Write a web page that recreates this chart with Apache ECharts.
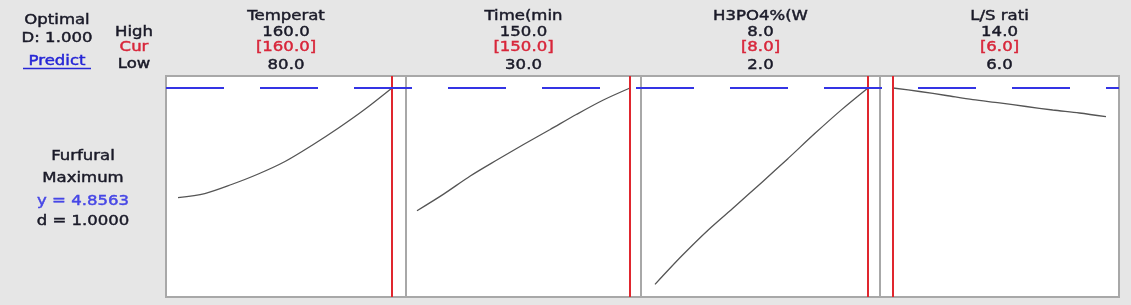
<!DOCTYPE html>
<html>
<head>
<meta charset="utf-8">
<script src="https://cdn.jsdelivr.net/npm/echarts@6/dist/echarts.min.js"></script>
<style>
html,body{margin:0;padding:0;background:#e6e6e6;}
#chart{width:1131px;height:305px;}
</style>
</head>
<body>
<div id="chart"></div>
<script>
// ---- data ----
const factors = ['Temperat', 'Time(min', 'H3PO4%(W', 'L/S rati'];
const highs = [160, 150, 8, 14];
const curs = [160, 150, 8, 6];
const lows = [80, 30, 2, 6];
const optimalD = 1.000;
const responseName = 'Furfural';
const goal = 'Maximum';
const optimalY = 4.8563;
const desirability = 1.0000;

const tempX = [80, 90, 100, 110, 120, 130, 140, 150, 160];
const tempY = [2.810, 2.888, 3.056, 3.252, 3.485, 3.784, 4.110, 4.464, 4.856];
const timeX = [30, 45, 60, 75, 90, 105, 120, 135, 150];
const timeY = [2.567, 2.877, 3.215, 3.513, 3.802, 4.082, 4.366, 4.632, 4.856];
const acidX = [2, 2.75, 3.5, 4.25, 5, 5.75, 6.5, 7.25, 8];
const acidY = [1.194, 1.722, 2.209, 2.646, 3.090, 3.543, 4.006, 4.448, 4.856];
const ratioX = [6, 7, 8, 9, 10, 11, 12, 13, 14];
const ratioY = [4.856, 4.791, 4.716, 4.640, 4.578, 4.511, 4.446, 4.390, 4.321];
const curvesX = [tempX, timeX, acidX, ratioX];
const curvesY = [tempY, timeY, acidY, ratioY];

// ---- layout ----
const W = 1131, H = 305;
const edges = [166, 406, 641, 880, 1119];
const padL = [12, 11, 14, 13];
const padR = [14, 11, 12, 13];
const topY = 76, bottomY = 297;
const yMin = 0.9575, yMax = 5.08;
const FONT = 'DejaVu Sans';
const TXT = '#1a1a28';
const RED = '#d8263a';
const BLUE = '#3434e4';
const SX = 1.18;

const grids = [], xAxes = [], yAxes = [], series = [];
for (let i = 0; i < 4; i++) {
  const l = edges[i], r = edges[i + 1];
  grids.push({left: l, top: topY, width: r - l, height: bottomY - topY,
    show: true, backgroundColor: '#ffffff', borderColor: '#a8a8a8', borderWidth: 2, z: 0});
  const dataW = (r - l) - padL[i] - padR[i];
  const unit = (highs[i] - lows[i]) / dataW;
  xAxes.push({type: 'value', gridIndex: i, min: lows[i] - padL[i] * unit, max: highs[i] + padR[i] * unit,
    show: false, splitLine: {show: false}});
  yAxes.push({type: 'value', gridIndex: i, min: yMin, max: yMax, show: false, splitLine: {show: false}});
  series.push({
    type: 'line', xAxisIndex: i, yAxisIndex: i, z: 3,
    data: curvesX[i].map((x, k) => [x, curvesY[i][k]]),
    showSymbol: false, symbol: 'none', silent: true, smooth: 0.3,
    lineStyle: {color: '#555555', width: 1.3}
  });
  series.push({
    type: 'line', xAxisIndex: i, yAxisIndex: i, z: 5, data: [], silent: true,
    markLine: {silent: true, symbol: ['none', 'none'], animation: false,
      label: {show: false},
      lineStyle: {color: '#e0262e', width: 2, type: 'solid'},
      emphasis: {disabled: true},
      data: [{xAxis: curs[i]}]}
  });
}
// overlay grid for the optimum response line
grids.push({left: edges[0], top: topY, width: edges[4] - edges[0], height: bottomY - topY, show: false});
xAxes.push({type: 'value', gridIndex: 4, min: 0, max: 1, show: false, splitLine: {show: false}});
yAxes.push({type: 'value', gridIndex: 4, min: yMin, max: yMax, show: false, splitLine: {show: false}});
series.push({
  type: 'line', xAxisIndex: 4, yAxisIndex: 4, z: 4, data: [], silent: true,
  markLine: {silent: true, symbol: ['none', 'none'], animation: false,
    label: {show: false},
    lineStyle: {color: BLUE, width: 2, type: [58, 36]},
    emphasis: {disabled: true},
    data: [{yAxis: optimalY}]}
});

function txt(s, x, y, color, size) {
  const c = color || TXT;
  return {type: 'text', x: x, y: y, scaleX: SX, scaleY: 1, silent: true, z: 10,
    style: {text: s, x: 0, y: 0, align: 'center', verticalAlign: 'middle',
      fill: c, stroke: c, lineWidth: 0.45, font: (size || 14) + 'px "' + FONT + '"'}};
}
const graphics = [];
graphics.push(txt('Optimal', 57, 20));
graphics.push(txt('D: ' + optimalD.toFixed(3), 57, 38));
graphics.push(txt('Predict', 57, 61, '#2626d6'));
graphics.push({type: 'line', silent: true, z: 10, shape: {x1: 23, y1: 68.5, x2: 91, y2: 68.5},
  style: {stroke: '#2626d6', lineWidth: 1.5}});
graphics.push(txt('High', 134, 32));
graphics.push(txt('Cur', 134, 47, RED));
graphics.push(txt('Low', 134, 64));
for (let i = 0; i < 4; i++) {
  const cx = (edges[i] + edges[i + 1]) / 2;
  graphics.push(txt(factors[i], cx, 16));
  graphics.push(txt(highs[i].toFixed(1), cx, 32));
  graphics.push(txt('[' + curs[i].toFixed(1) + ']', cx, 47, RED));
  graphics.push(txt(lows[i].toFixed(1), cx, 65));
}
graphics.push(txt(responseName, 83, 156));
graphics.push(txt(goal, 83, 178));
graphics.push(txt('y = ' + optimalY.toFixed(4), 83, 201, '#4646e6'));
graphics.push(txt('d = ' + desirability.toFixed(4), 83, 221));

const chart = echarts.init(document.getElementById('chart'), null, {renderer: 'canvas', width: W, height: H});
chart.setOption({
  animation: false,
  backgroundColor: '#e6e6e6',
  grid: grids, xAxis: xAxes, yAxis: yAxes, series: series,
  graphic: graphics
});
</script>
</body>
</html>
